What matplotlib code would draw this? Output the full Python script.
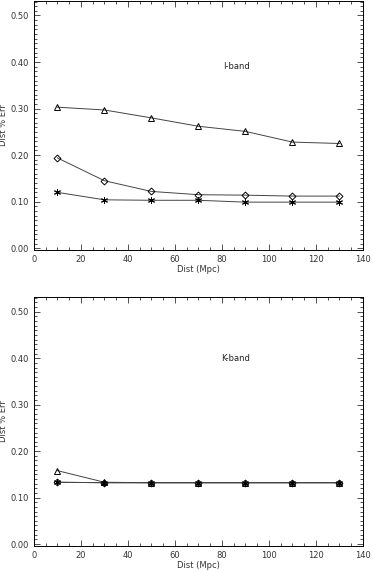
import matplotlib
matplotlib.use("Agg")
import matplotlib.pyplot as plt
from matplotlib.ticker import MultipleLocator, FormatStrFormatter

# distancias (Mpc)
dist = [10, 30, 50, 70, 90, 110, 130]

# I-band
i_tri = [0.303, 0.297, 0.280, 0.262, 0.251, 0.228, 0.225]
i_dia = [0.194, 0.145, 0.122, 0.115, 0.114, 0.112, 0.112]
i_ast = [0.120, 0.104, 0.103, 0.103, 0.099, 0.099, 0.099]

# K-band
k_tri = [0.158, 0.133, 0.132, 0.132, 0.132, 0.132, 0.132]
k_dia = [0.133, 0.132, 0.132, 0.132, 0.132, 0.132, 0.132]
k_ast = [0.133, 0.132, 0.132, 0.132, 0.132, 0.132, 0.132]

fig = plt.figure(figsize=(3.73, 5.71), dpi=100)
ax1 = fig.add_axes([0.091, 0.562, 0.882, 0.437])
ax2 = fig.add_axes([0.091, 0.044, 0.882, 0.436])

def desenha(ax, tri, dia, ast, rotulo, ty):
    kw = dict(color="#444444", lw=0.7, mfc="none", mec="black", mew=0.7)
    ax.plot(dist, tri, marker="^", ms=5, **kw)
    ax.plot(dist, dia, marker="D", ms=3.5, **kw)
    ax.plot(dist, ast, marker=(6, 2, 0), ms=5, **kw)
    ax.text(86, ty, rotulo, fontsize=6, ha="center", va="center", color="#222222")
    ax.set_xlim(0, 140)
    ax.set_ylim(-0.004, 0.532)
    ax.xaxis.set_major_locator(MultipleLocator(20))
    ax.xaxis.set_minor_locator(MultipleLocator(5))
    ax.yaxis.set_major_locator(MultipleLocator(0.1))
    ax.yaxis.set_minor_locator(MultipleLocator(0.01))
    ax.yaxis.set_major_formatter(FormatStrFormatter("%.2f"))
    ax.tick_params(which="both", direction="in", top=True, right=True,
                   labelsize=6, width=0.6, colors="#333333")
    ax.tick_params(which="major", length=4.5)
    ax.tick_params(which="minor", length=2)
    ax.set_xlabel("Dist (Mpc)", fontsize=6, labelpad=1, color="#333333")
    ax.set_ylabel("Dist % Err", fontsize=6, labelpad=2, color="#333333")
    for s in ax.spines.values():
        s.set_linewidth(0.7)

desenha(ax1, i_tri, i_dia, i_ast, "I-band", 0.39)
desenha(ax2, k_tri, k_dia, k_ast, "K-band", 0.40)

fig.savefig("out.png", dpi=100)
